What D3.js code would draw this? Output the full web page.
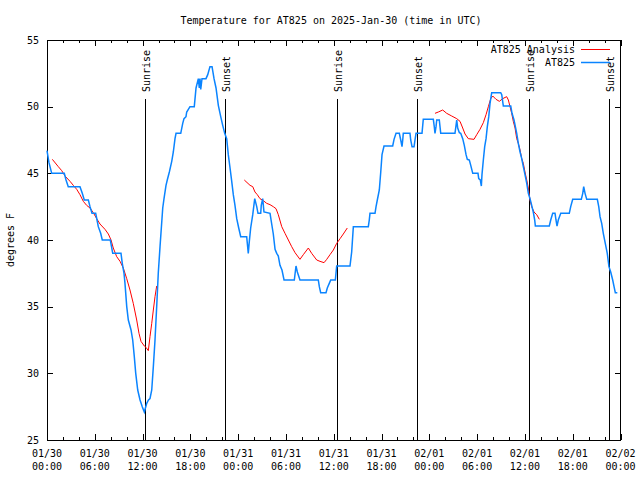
<!DOCTYPE html>
<html>
<head>
<meta charset="utf-8">
<script src="https://cdn.jsdelivr.net/npm/d3@7"></script>
<style>
  html, body { margin: 0; padding: 0; background: #fff; }
  svg { display: block; }
  text { font-family: "DejaVu Sans Mono", "Liberation Mono", monospace; font-size: 10px; fill: #000; }
</style>
</head>
<body>
<svg id="chart" width="640" height="480"></svg>
<script>
// ---------------- DATA ----------------
const chartTitle = "Temperature for AT825 on 2025-Jan-30 (time in UTC)";
const yLabel = "degrees F";
const startTime = "2025-01-30T00:00:00Z";
const endTime = "2025-02-02T00:00:00Z";
const yTicks = [25, 30, 35, 40, 45, 50, 55];

// Observations (hours since 01/30 00:00 UTC, degrees F)
const obsHours = [0, 0.25, 0.59, 2.17, 2.39, 2.67, 4.14, 4.43, 4.68, 5.19, 5.4, 5.65, 6.11, 6.28, 6.44, 6.74, 6.94, 7.95, 8.1, 8.25,
  9.29, 9.45, 9.67, 9.79, 10.01, 10.21, 10.55, 10.76, 10.96, 11.14, 11.39, 11.68, 11.96, 12.22, 12.52, 12.74, 12.93, 13.15, 13.35, 13.56,
  13.77, 13.97, 14.19, 14.53, 14.69, 14.94, 15.1, 15.36, 15.66, 15.86, 16.07, 16.2, 16.79, 17.04, 17.2, 17.45, 17.54, 17.95, 18.49, 18.71,
  19.0, 19.12, 19.21, 19.3, 19.46, 19.96, 20.18, 20.46, 20.72, 20.97, 21.22, 21.51, 21.81, 22.06, 22.31, 22.56, 22.76, 22.98, 23.19, 23.39,
  23.6, 23.82, 24.07, 24.32, 25.07, 25.15, 25.27, 25.4, 25.57, 25.83, 26.08, 26.33, 26.49, 26.83, 26.9, 27.08, 27.24, 28.0, 28.21, 28.41,
  28.63, 28.84, 29.04, 29.25, 29.5, 29.76, 31.05, 31.26, 31.43, 31.76, 34.06, 34.19, 34.36, 35.03, 35.19, 35.44, 35.62, 36.2, 36.28, 36.37,
  38.04, 38.13, 38.25, 38.46, 40.34, 40.46, 40.55, 41.18, 41.31, 41.47, 41.72, 41.9, 42.06, 42.31, 43.4, 43.57, 43.82, 44.23, 44.41, 44.57,
  44.66, 44.73, 45.57, 45.66, 45.83, 46.08, 46.2, 46.33, 47.08, 47.24, 48.5, 48.62, 48.71, 48.84, 48.93, 49.25, 49.43, 51.22, 51.44, 51.56,
  51.77, 51.94, 52.19, 52.39, 52.61, 52.77, 53.02, 53.2, 53.45, 54.11, 54.2, 54.4, 54.53, 54.61, 54.78, 54.95, 55.12, 55.28, 55.46, 55.62,
  55.83, 56.96, 57.09, 57.29, 58.22, 58.38, 58.63, 58.8, 58.97, 59.17, 59.39, 59.6, 59.8, 60.01, 60.23, 60.43, 60.64, 60.85, 61.05, 61.23,
  61.31, 63.06, 63.24, 63.49, 63.78, 63.9, 64.03, 64.19, 64.5, 65.57, 65.75, 66.0, 67.08, 67.26, 67.38, 67.55, 67.76, 69.09, 69.27, 69.43,
  69.64, 69.84, 70.09, 70.34, 70.55, 70.77, 71.02, 71.19, 71.35, 71.6];
const obsTemps = [46.7, 45.8, 45, 45, 44.5, 44, 44, 43.5, 43, 43, 42.5, 42, 42, 41.5, 41, 40.5, 40, 40, 39.5, 39,
  39, 38.25, 37.5, 36.75, 35, 34, 33.25, 32.5, 31.25, 30, 28.75, 28, 27.5, 27.1, 27.75, 28, 28.1, 28.75, 30.5, 32.5,
  35, 37.5, 39.5, 42.4, 43.1, 44.1, 44.5, 45.1, 45.9, 46.6, 47.6, 48, 48, 48.75, 49.1, 49.25, 49.6, 50, 50, 51.4,
  52.1, 51.4, 52.1, 51.3, 52.1, 52.1, 52.4, 53, 53, 52.1, 51.4, 50.1, 49.25, 48.6, 48, 47.6, 46.4, 45.4, 44.4, 43.4,
  42.6, 41.6, 40.9, 40.25, 40.25, 39.75, 39, 39.9, 40.9, 41.9, 43.1, 42.5, 42, 42, 42.6, 43.1, 42.1, 42, 41.2, 40.45,
  39.3, 39, 38.8, 38.1, 37.75, 37, 37, 38.05, 37.6, 37, 37, 36.5, 36.05, 36.05, 36.4, 36.75, 37, 37, 37.5, 38.05,
  38.05, 38.5, 39.1, 41, 41, 41.5, 42, 42, 42.5, 43, 43.75, 45.1, 46.4, 47.05, 47.05, 47.55, 48, 48, 47.5, 47,
  47.5, 48, 48, 47.5, 47, 47, 47.5, 48, 48, 49.05, 49.05, 48.5, 48, 48.5, 49, 49, 48, 48, 49, 48.4,
  48.05, 48, 47.6, 47.1, 46.4, 46.05, 46, 45.6, 45, 45, 44.6, 44.5, 44.05, 44.9, 46, 47, 47.6, 48.5, 49.25, 50.25,
  51.05, 51.05, 50.9, 50.05, 50.05, 49.5, 49, 48.5, 48, 47.25, 46.6, 46.1, 45.5, 44.9, 44.25, 43.5, 43.1, 42.6, 42.1, 41.5,
  41.05, 41.05, 41.5, 42, 42, 41.5, 41.05, 41.5, 42, 42, 42.5, 43.05, 43.05, 43.5, 44, 43.5, 43.05, 43.05, 42.5, 41.75,
  41.25, 40.5, 39.75, 39, 38, 37.6, 37, 36.5, 36.05, 36.05];

// Analysis (hours since 01/30 00:00 UTC, degrees F); null marks a gap
const anaHours = [0.67, 1.42, 1.85, 2.26, 2.89, 3.3, 3.73, 4.14, 4.56, 4.98, 5.4, 5.81, 6.24, 6.65, 7.28, 7.7, 8.04, 8.32, 8.75, 9.17,
  9.58, 10.01, 10.42, 10.83, 11.26, 11.55, 11.8, 12.22, 12.43, 12.72, 12.93, 13.15, 13.35, 13.56, 13.77, null,
  24.77, 25.49, 25.83, 26.11, 26.4, 26.74, 27.16, 27.58, 28.0, 28.41, 28.75, 29.04, 29.47, 29.88, 30.3, 30.72, 31.14, 31.76, 32.18, 32.81,
  33.23, 33.86, 34.27, 34.78, 35.12, 35.53, 35.95, 36.37, 36.79, 37.2, 37.7, null,
  48.71, 49.13, 49.68, 50.18, 50.81, 51.44, 51.85, 52.19, 52.48, 52.89, 53.61, 53.95, 54.36, 54.78, 55.12, 55.41, 55.71, 55.96, 56.37, 56.79,
  57.21, 57.71, 57.92, 58.13, 58.34, 58.54, 58.76, 58.97, 59.17, 59.39, 59.6, 59.8, 60.01, 60.23, 60.43, 60.64, 60.85, 61.14, 61.48, 61.81];
const anaTemps = [46.05, 45.5, 45.2, 44.8, 44.4, 44.1, 43.8, 43.4, 42.9, 42.6, 42.4, 42.05, 41.6, 41.2, 40.8, 40.45, 40, 39.4, 38.75, 38.4,
  37.9, 37.1, 36.25, 35.25, 34, 33, 32.4, 32.05, 31.95, 31.7, 32.75, 33.75, 34.75, 35.75, 36.55, null,
  44.5, 44.1, 44, 43.6, 43.4, 43.1, 42.95, 42.75, 42.65, 42.5, 42.35, 41.9, 41, 40.5, 40, 39.5, 39.05, 38.55, 38.9, 39.4,
  39, 38.5, 38.4, 38.3, 38.55, 38.9, 39.25, 39.75, 40.1, 40.45, 40.9, null,
  49.5, 49.6, 49.75, 49.5, 49.3, 49.1, 48.9, 48.4, 47.95, 47.6, 47.55, 47.9, 48.3, 48.8, 49.4, 50, 50.6, 50.8, 50.55, 50.4,
  50.6, 50.75, 50.5, 50, 49.5, 48.9, 48.4, 47.6, 47.25, 46.75, 46.1, 45.75, 45.1, 44.5, 43.9, 43, 42.5, 42.1, 41.9, 41.55];

// Sunrise / sunset events (hours since 01/30 00:00 UTC)
const sunHours = [12.34, 22.39, 36.37, 46.49, 60.48, 70.6];
const sunLabels = ["Sunrise", "Sunset", "Sunrise", "Sunset", "Sunrise", "Sunset"];

const seriesNames = ["AT825 Analysis", "AT825"];
const seriesColors = ["#ff0000", "#0a84ff"];

// ---------------- CHART ----------------
const svg = d3.select("#chart");
const L = 47, R = 620.5, T = 40, B = 440;
const t0 = new Date(startTime);
const toDate = h => new Date(t0.getTime() + h * 3600 * 1000);

const x = d3.scaleUtc().domain([t0, new Date(endTime)]).range([L, R]);
const y = d3.scaleLinear().domain([25, 55]).range([B, T]);

const majorTicks = d3.utcHour.every(6).range(t0, new Date(new Date(endTime).getTime() + 1));
const minorTicks = d3.utcHour.every(2).range(t0, new Date(new Date(endTime).getTime() + 1));
const fmtDate = d3.utcFormat("%m/%d");
const fmtTime = d3.utcFormat("%H:%M");

const px = v => Math.round(v) + 0.5;

// Title
svg.append("text").attr("x", 331).attr("y", 24).attr("text-anchor", "middle").text(chartTitle);

// Y label
svg.append("text").attr("transform", "translate(14,240) rotate(-90)")
  .attr("text-anchor", "middle").text(yLabel);

const ax = svg.append("g").attr("stroke", "#000").attr("stroke-width", 1).attr("shape-rendering", "crispEdges");

// x ticks (bottom and top, inward)
minorTicks.forEach(d => {
  const xx = px(x(d));
  const isMajor = d.getUTCHours() % 6 === 0;
  const len = isMajor ? 6 : 3;
  ax.append("line").attr("x1", xx).attr("x2", xx).attr("y1", B).attr("y2", B - len);
  ax.append("line").attr("x1", xx).attr("x2", xx).attr("y1", T).attr("y2", T + len);
});
// y ticks (left and right, inward)
yTicks.forEach(v => {
  const yy = px(y(v));
  ax.append("line").attr("x1", L).attr("x2", L + 6).attr("y1", yy).attr("y2", yy);
  ax.append("line").attr("x1", R).attr("x2", R - 6).attr("y1", yy).attr("y2", yy);
});

// x labels
majorTicks.forEach(d => {
  const xx = x(d);
  svg.append("text").attr("x", xx).attr("y", 457).attr("text-anchor", "middle").text(fmtDate(d));
  svg.append("text").attr("x", xx).attr("y", 470).attr("text-anchor", "middle").text(fmtTime(d));
});
// y labels
yTicks.forEach(v => {
  svg.append("text").attr("x", 39).attr("y", y(v) + 3.5).attr("text-anchor", "end").text(v);
});

// Sunrise / sunset
sunHours.forEach((h, i) => {
  const xx = px(x(toDate(h)));
  ax.append("line").attr("x1", xx).attr("x2", xx).attr("y1", 99).attr("y2", B);
  svg.append("text").attr("transform", `translate(${xx + 4.5},92) rotate(-90)`)
    .attr("text-anchor", "start").text(sunLabels[i]);
});

// Series lines
const obsData = obsHours.map((h, i) => ({ t: toDate(h), v: obsTemps[i] }));
const anaData = anaHours.map((h, i) => (h === null ? null : { t: toDate(h), v: anaTemps[i] }));

const line = d3.line().defined(d => d !== null).x(d => x(d.t)).y(d => y(d.v));

svg.append("path").datum(anaData).attr("fill", "none").attr("stroke", seriesColors[0])
  .attr("stroke-width", 1).attr("d", line);
svg.append("path").datum(obsData).attr("fill", "none").attr("stroke", seriesColors[1])
  .attr("stroke-width", 1.5).attr("d", line);

// Legend
const legY = [49.5, 62.5];
seriesNames.forEach((n, i) => {
  svg.append("text").attr("x", 575).attr("y", legY[i] + 3.5).attr("text-anchor", "end").text(n);
  svg.append("line").attr("x1", 581).attr("x2", 610).attr("y1", legY[i]).attr("y2", legY[i])
    .attr("stroke", seriesColors[i]).attr("stroke-width", i === 0 ? 1 : 1.5);
});

// Frame
ax.append("rect").attr("x", L + 0.5).attr("y", T + 0.5).attr("width", R - L - 0.5).attr("height", B - T)
  .attr("fill", "none");
</script>
</body>
</html>
